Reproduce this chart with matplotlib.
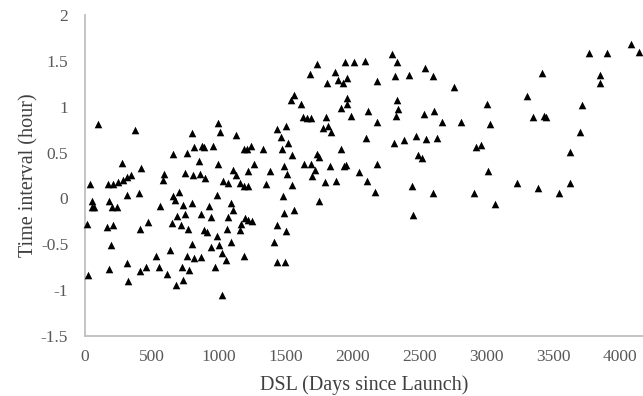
#!/usr/bin/env python3
"""Scatter: time interval vs days since launch."""
import matplotlib
matplotlib.use("Agg")
import matplotlib.pyplot as plt

# days since launch, time interval (hour)
dsl = [
    100, 374, 802, 814, 655, 765, 274, 416, 747, 805, 590, 580, 42, 170, 207,
    249, 282, 311, 341, 316, 403, 55, 55, 70, 182, 199, 237, 560, 660, 705,
    672, 730, 797, 17, 167, 212, 411, 468, 648, 715, 772, 685, 749, 192, 797,
    635, 535, 760, 814, 311, 555, 456, 411, 722, 779, 615, 182, 25, 324, 734,
    680,
    1681, 1563, 1539, 1614, 1631, 1656, 1688, 996, 1011, 1128, 1439, 1506,
    1464, 1519, 1474, 1549, 872, 889, 958, 1190, 1215, 1240, 1332, 854, 996,
    1265, 857, 896, 1103, 1126, 1220, 1382, 1489, 1511, 1636, 1693, 1698,
    1033, 1071, 1158, 1190, 1220, 1352, 1544, 988, 1481, 929, 1091, 1103, 867,
    946, 1071, 1200, 1220, 1245, 1163, 1489, 1563, 1432, 891, 916, 1063, 1158,
    1506, 988, 941, 1001, 1091, 1414, 864, 1026, 1051, 1188, 1432, 1494, 971,
    1028,
    1731, 1947, 2012, 2091, 2293, 2333, 2540, 1872, 1892, 1925, 1962, 1810,
    2179, 2318, 2418, 1962, 1955, 1910, 1987, 2116, 2179, 2333, 2343, 2323,
    2535, 1800, 1780, 1817, 1837, 2099, 2308, 2383, 2477, 2547, 1917, 1731,
    1748, 2492, 2522, 1718, 1830, 1937, 1950, 2049, 2186, 1793, 1875, 2109,
    2171, 2447, 1750, 2452,
    2602, 2759, 3005, 3304, 3349, 2609, 2665, 2809, 3025, 2630, 2926, 2963,
    3013, 3225, 2602, 2906, 3063,
    3763, 3900, 4080, 4140, 3413, 3846, 3846, 3716, 3432, 3449, 3703, 3623,
    3628, 3382, 3540,
]
interval = [
    0.81, 0.75, 0.71, 0.565, 0.48, 0.50, 0.39, 0.33, 0.275, 0.26, 0.27, 0.20,
    0.16, 0.16, 0.16, 0.18, 0.20, 0.23, 0.26, 0.04, 0.06, -0.03, -0.09, -0.09,
    -0.03, -0.09, -0.09, -0.08, 0.03, 0.07, -0.02, -0.07, -0.05, -0.28, -0.31,
    -0.29, -0.33, -0.26, -0.27, -0.29, -0.33, -0.19, -0.17, -0.51, -0.50,
    -0.56, -0.63, -0.63, -0.65, -0.70, -0.75, -0.75, -0.79, -0.75, -0.78,
    -0.82, -0.77, -0.84, -0.90, -0.89, -0.94,
    1.36, 1.13, 1.07, 1.03, 0.885, 0.875, 0.875, 0.82, 0.72, 0.69, 0.76, 0.79,
    0.67, 0.60, 0.54, 0.47, 0.57, 0.565, 0.57, 0.54, 0.54, 0.57, 0.54, 0.41,
    0.38, 0.38, 0.27, 0.22, 0.31, 0.26, 0.30, 0.30, 0.35, 0.27, 0.38, 0.38,
    0.24, 0.19, 0.17, 0.17, 0.14, 0.14, 0.16, 0.15, 0.04, 0.03, -0.08, -0.05,
    -0.13, -0.17, -0.20, -0.20, -0.21, -0.23, -0.25, -0.28, -0.16, -0.13,
    -0.29, -0.34, -0.37, -0.33, -0.34, -0.36, -0.41, -0.53, -0.51, -0.48,
    -0.47, -0.64, -0.60, -0.67, -0.63, -0.69, -0.69, -0.75, -1.05,
    1.47, 1.485, 1.485, 1.50, 1.57, 1.49, 1.42, 1.38, 1.29, 1.26, 1.31, 1.26,
    1.28, 1.34, 1.35, 1.10, 1.03, 0.99, 0.90, 0.95, 0.83, 1.07, 0.98, 0.90,
    0.92, 0.885, 0.77, 0.79, 0.72, 0.66, 0.60, 0.64, 0.68, 0.645, 0.54, 0.49,
    0.45, 0.47, 0.44, 0.31, 0.35, 0.35, 0.37, 0.29, 0.38, 0.18, 0.19, 0.19,
    0.07, 0.14, -0.03, -0.18,
    1.34, 1.22, 1.03, 1.12, 0.885, 0.95, 0.83, 0.83, 0.81, 0.66, 0.565, 0.58,
    0.30, 0.17, 0.06, 0.06, -0.06,
    1.59, 1.59, 1.68, 1.60, 1.37, 1.35, 1.26, 1.02, 0.90, 0.89, 0.72, 0.51,
    0.17, 0.11, 0.06,
]

x_ticks = [0, 500, 1000, 1500, 2000, 2500, 3000, 3500, 4000]
y_ticks = [-1.5, -1, -0.5, 0, 0.5, 1, 1.5, 2]
y_tick_labels = ["-1.5", "-1", "-0.5", "0", "0.5", "1", "1.5", "2"]

plt.rcParams["font.family"] = ["Liberation Serif", "DejaVu Serif"]

fig = plt.figure(figsize=(6.43, 3.96), dpi=100)
ax = fig.add_axes([0.132, 0.1515, 0.868, 0.8105])

ax.scatter(dsl, interval, marker="^", s=30, color="black", linewidths=0,
           clip_on=False, zorder=3)

ax.set_xlim(0, 4170)
ax.set_ylim(-1.5, 2)
ax.set_xticks(x_ticks)
ax.set_yticks(y_ticks)
ax.set_yticklabels(y_tick_labels)
ax.tick_params(length=0, labelsize=12.5, colors="#595959")
ax.tick_params(axis="x", pad=9)
ax.tick_params(axis="y", pad=12)

for side in ("top", "right"):
    ax.spines[side].set_visible(False)
for side in ("left", "bottom"):
    ax.spines[side].set_color("#bfbfbf")
    ax.spines[side].set_linewidth(1.3)

ax.set_xlabel("DSL (Days since Launch)", fontsize=14.5, color="#404040",
              labelpad=8)
ax.set_ylabel("Time interval (hour)", fontsize=14.5, color="#404040",
              labelpad=2)

fig.savefig("out.png", dpi=100)
plt.close(fig)
